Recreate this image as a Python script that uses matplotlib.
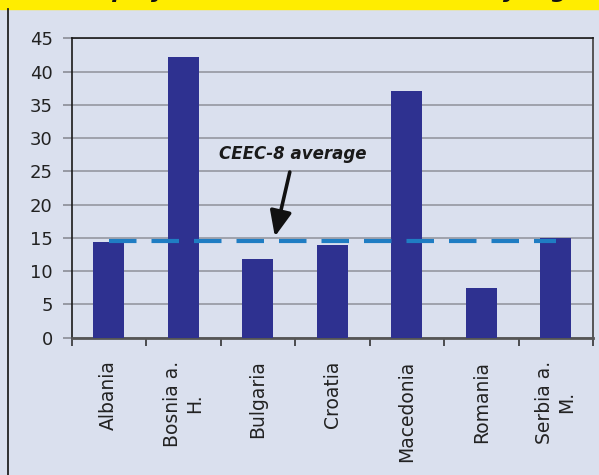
import matplotlib
matplotlib.use('Agg')
import matplotlib.pyplot as plt
from matplotlib.lines import Line2D
from matplotlib.patches import Rectangle
import numpy as np

# --- data ---
countries = ['Albania', 'Bosnia a.\nH.', 'Bulgaria', 'Croatia',
             'Macedonia', 'Romania', 'Serbia a.\nM.']
values = [14.4, 42.2, 11.9, 13.9, 37.1, 7.5, 15.0]
ceec8_average = 14.6
yticks = [0, 5, 10, 15, 20, 25, 30, 35, 40, 45]
title_text = 'Unemployment rates in the CEEC-8 by region'
avg_label = 'CEEC-8 average'

# colours
BG = '#DAE0EE'
BAR = '#2E3190'
DASH = '#1F7DC3'
YELLOW = '#FFED00'

W, H = 599, 475
fig = plt.figure(figsize=(W / 100, H / 100), dpi=100, facecolor=BG)

# yellow title band (title mostly cut off at top edge, only descenders show)
band_h = 8.7 / H
fig.add_artist(Rectangle((0, 1 - band_h), 1, band_h, transform=fig.transFigure,
                         color=YELLOW, zorder=0))
fig.text(40 / W, 1 + 2.5 / H, title_text, fontsize=16, fontweight='bold',
         fontstyle='italic', va='baseline', ha='left', color='#111')
# left frame line
fig.add_artist(Line2D([8 / W, 8 / W], [0, 1 - band_h], transform=fig.transFigure,
                      color='#222', lw=1.3))

ax = fig.add_axes([71.5 / W, 137.3 / H, 521.5 / W, 299.4 / H])
ax.set_facecolor(BG)

x = np.arange(len(countries))
ax.bar(x, values, width=0.42, color=BAR, zorder=3)

# average dashed line, from first to last category
ax.plot([x[0], x[-1]], [ceec8_average, ceec8_average], color=DASH, lw=3,
        dashes=(6.6, 3.6), solid_capstyle='butt', dash_capstyle='butt', zorder=4)

ax.set_xlim(-0.5, len(countries) - 0.5)
ax.set_ylim(0, 45)
ax.set_yticks(yticks)
ax.grid(axis='y', color='#9A9DA6', lw=1.3, zorder=1)

# category labels at centres, tick marks at boundaries
ax.set_xticks(x)
ax.set_xticklabels(countries, rotation=90, fontsize=13.5, color='#222',
                   multialignment='center')
ax.tick_params(axis='x', which='major', length=0, pad=16.5)
ax.set_xticks(np.arange(-0.5, len(countries)), minor=True)
ax.tick_params(axis='x', which='minor', length=6, width=1.2, color='#333')
ax.tick_params(axis='y', length=6.5, width=1.2, color='#8a8d96', pad=7,
               labelsize=13, labelcolor='#222')

for side in ['left', 'top']:
    ax.spines[side].set_color('#1a1a1a')
    ax.spines[side].set_linewidth(1.2)
ax.spines['right'].set_color('#555')
ax.spines['right'].set_linewidth(1.4)
ax.spines['bottom'].set_color('#555')
ax.spines['bottom'].set_linewidth(2.0)

# annotation for the average line
ax.text(2.47, 27.6, avg_label, fontsize=12, fontweight='bold', fontstyle='italic',
        ha='center', va='center', color='#1a1a1a', zorder=5)
ax.annotate('', xy=(2.23, 15.2), xytext=(2.43, 24.9),
            arrowprops=dict(arrowstyle='-|>,head_length=0.7,head_width=0.3',
                            lw=2.6, color='#111',
                            mutation_scale=22, shrinkA=0, shrinkB=0),
            zorder=5)

fig.savefig('out.png', dpi=100, facecolor=BG)
